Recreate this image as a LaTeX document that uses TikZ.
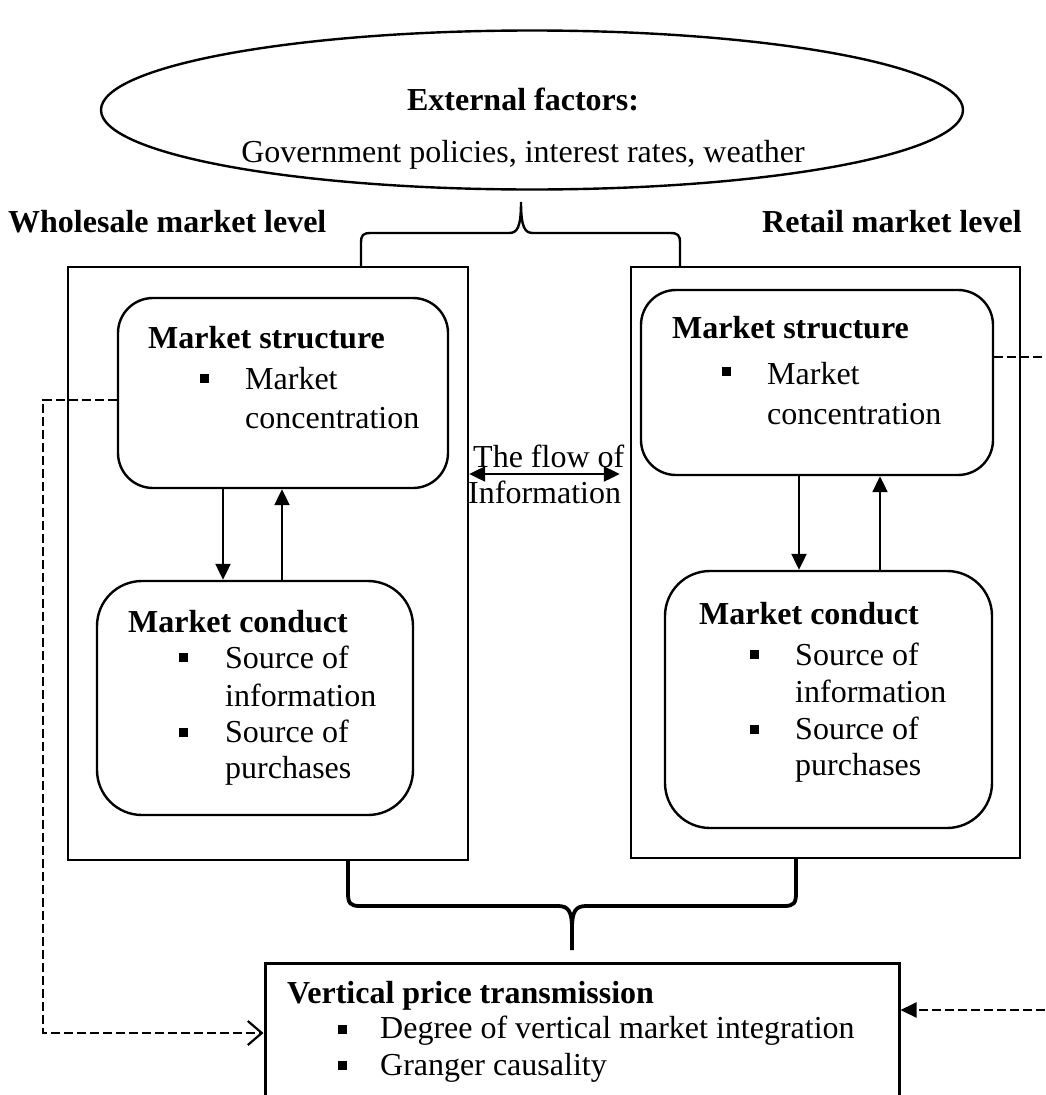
\documentclass[tikz,border=0pt]{standalone}
\usepackage{fontspec}
\setmainfont{Liberation Serif}
\usetikzlibrary{arrows.meta,shapes.geometric}
\begin{document}
\begin{tikzpicture}[x=1pt,y=-1pt,
  frame/.style={draw, line width=2.4pt, inner sep=0pt},
  txt/.style={anchor=base west, inner sep=0pt, font=\fontsize{32}{36}\selectfont},
  btxt/.style={anchor=base west, inner sep=0pt, font=\fontsize{32}{36}\selectfont\bfseries},
  ctxt/.style={anchor=base, inner sep=0pt, font=\fontsize{32}{36}\selectfont},
  bul/.style={fill, inner sep=0pt, minimum size=9pt},
  tip/.style={Triangle[width=15pt,length=16pt]},
  arr/.style={line width=2.2pt, -{Triangle[width=15pt,length=16pt]}},
  dashline/.style={line width=2.2pt, dash pattern=on 9pt off 4pt},
  brace/.style={line width=2.4pt},
  bbrace/.style={line width=3.8pt}
]
\useasboundingbox (0,0) rectangle (1046,1095);
\clip (0,0) rectangle (1046,1095);

% external factors
\node[draw, line width=2.4pt, ellipse, inner sep=0pt, minimum width=862pt, minimum height=159pt] (ef) at (532,110) {};
\node[ctxt, font=\fontsize{32}{36}\selectfont\bfseries] (eft) at (523,110) {External factors:};
\node[ctxt] (efs) at (523,162) {Government policies, interest rates, weather};

% level labels
\node[btxt] (wl) at (8,232) {Wholesale market level};
\node[btxt] (rl) at (762,232) {Retail market level};

% wholesale boxes
\node[frame, minimum width=400pt, minimum height=593pt] (lw) at (268,563.5) {};
\node[frame, rounded corners=35pt, minimum width=330pt, minimum height=190pt] (ls) at (283,393) {};
\node[frame, rounded corners=45pt, minimum width=316pt, minimum height=234pt] (lc) at (255,698) {};

% retail boxes
\node[frame, minimum width=389pt, minimum height=591pt] (rw) at (825.5,562.5) {};
\node[frame, rounded corners=35pt, minimum width=352pt, minimum height=185pt] (rs) at (817,382.5) {};
\node[frame, rounded corners=45pt, minimum width=327pt, minimum height=257pt] (rc) at (828.5,699.5) {};

% bottom box
\node[draw, line width=3pt, inner sep=0pt, minimum width=634pt, minimum height=200pt] (vp) at (582,1063) {};

% texts wholesale structure
\node[btxt] (lst) at (148,348) {Market structure};
\node[bul] (lsb) at (204,378) {};
\node[txt] (ls1) at (245,389) {Market};
\node[txt] (ls2) at (245,428) {concentration};

% texts wholesale conduct
\node[btxt] (lct) at (128,632) {Market conduct};
\node[bul] (lcb1) at (183.5,657.5) {};
\node[txt] (lc1) at (225,668) {Source of};
\node[txt] (lc2) at (225,706) {information};
\node[bul] (lcb2) at (183.5,732.5) {};
\node[txt] (lc3) at (225,742) {Source of};
\node[txt] (lc4) at (225,778) {purchases};

% texts retail structure
\node[btxt] (rst) at (672,338) {Market structure};
\node[bul] (rsb) at (726,371) {};
\node[txt] (rs1) at (767,384) {Market};
\node[txt] (rs2) at (767,424) {concentration};

% texts retail conduct
\node[btxt] (rct) at (699,624) {Market conduct};
\node[bul] (rcb1) at (754,654) {};
\node[txt] (rc1) at (795,665) {Source of};
\node[txt] (rc2) at (795,702) {information};
\node[bul] (rcb2) at (754,729) {};
\node[txt] (rc3) at (795,739) {Source of};
\node[txt] (rc4) at (795,775) {purchases};

% bottom texts
\node[btxt] (vpt) at (287,1003) {Vertical price transmission};
\node[bul] (vpb1) at (342.5,1029) {};
\node[txt] (vp1) at (380,1038) {Degree of vertical market integration};
\node[bul] (vpb2) at (342.5,1065.5) {};
\node[txt] (vp2) at (380,1075) {Granger causality};

% flow of information
\node[txt] (fl1) at (473,467) {The flow of};
\node[txt] (fl2) at (468,503) {Information};
\coordinate (fly) at (0,474);
\draw[line width=2.2pt, {Triangle[width=15pt,length=16pt]}-{Triangle[width=15pt,length=16pt]}, shorten >=10pt]
  (lw.east |- fly) -- (rw.west |- fly);

% vertical arrows
\coordinate (ax1) at (223,0);
\coordinate (ax2) at (282,0);
\coordinate (ax3) at (799,0);
\coordinate (ax4) at (880,0);
\draw[arr] (ls.south -| ax1) -- (lc.north -| ax1);
\draw[arr] (lc.north -| ax2) -- (ls.south -| ax2);
\draw[arr] (rs.south -| ax3) -- (rc.north -| ax3);
\draw[arr] (rc.north -| ax4) -- (rs.south -| ax4);

% top brace
\coordinate (tb1) at (361,0);
\coordinate (tb2) at (680,0);
\draw[brace] (lw.north -| tb1) -- (361,243) .. controls (361,235) and (363,233) .. (371,233)
  -- (509,233) .. controls (517,233) and (521,228) .. (521,202)
  .. controls (521,228) and (525,233) .. (533,233)
  -- (670,233) .. controls (678,233) and (680,235) .. (680,243) -- (rw.north -| tb2);

% bottom brace
\coordinate (bb1) at (348,0);
\coordinate (bb2) at (796,0);
\draw[bbrace] (lw.south -| bb1) -- (348,893) .. controls (348,903) and (350,906) .. (360,906)
  -- (558,906) .. controls (568,906) and (572,911) .. (572,928) -- (572,950)
  (572,928) .. controls (572,911) and (576,906) .. (586,906)
  -- (784,906) .. controls (794,906) and (796,903) .. (796,893) -- (rw.south -| bb2);

% dashed connectors
\coordinate (dl) at (43,400);
\coordinate (dla) at (43,1033);
\draw[dashline, -{Straight Barb[length=14pt,width=24pt]}] (ls.west |- dl) -- (dl) -- (dla) -- (vp.west |- dla);
\coordinate (dr1) at (1070,357);
\coordinate (dr2) at (1070,1010);
\draw[dashline, -{Triangle[width=15pt,length=16pt]}] (rs.east |- dr1) -- (dr1) -- (dr2) -- (vp.east |- dr2);
\end{tikzpicture}
\end{document}
